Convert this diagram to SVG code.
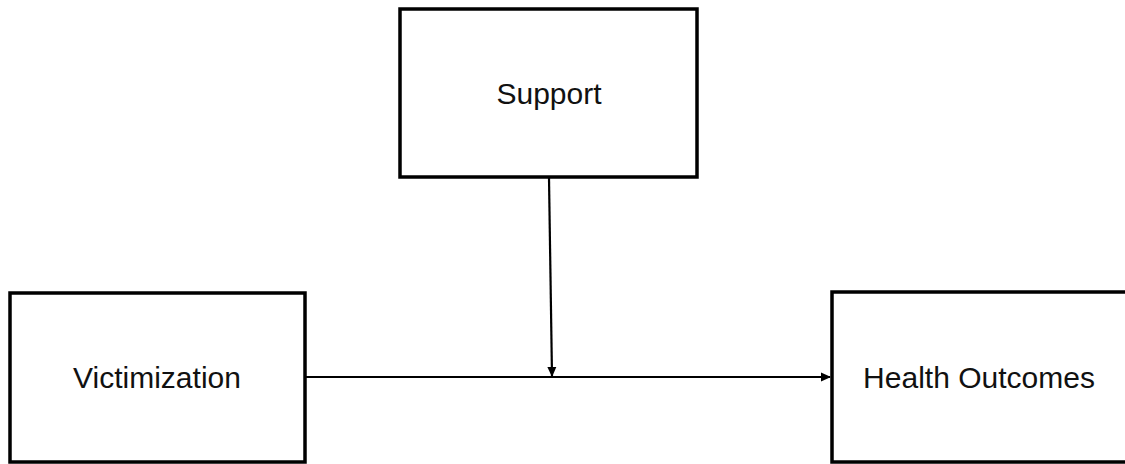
<svg xmlns="http://www.w3.org/2000/svg" width="1125" height="464" viewBox="0 0 1125 464">
<style>
.box{fill:#fff;stroke:#000;stroke-width:3.5}
.lbl{font-family:"Liberation Sans",Arial,sans-serif;font-size:30px;fill:#111;text-anchor:middle}
.conn{stroke:#000;stroke-width:2.2;fill:none}
</style>
<defs>
<marker id="ah" markerWidth="10" markerHeight="10" refX="9" refY="5" orient="auto" markerUnits="userSpaceOnUse">
<path d="M0,0.5 L10,5 L0,9.5 Z" fill="#000"/>
</marker>
</defs>
<rect width="1125" height="464" fill="#fff"/>
<g id="support">
<rect class="box" x="400" y="9" width="297" height="168"/>
<text class="lbl" x="549" y="104">Support</text>
</g>
<g id="victimization">
<rect class="box" x="10" y="293" width="295" height="169"/>
<text class="lbl" x="157" y="388">Victimization</text>
</g>
<g id="health">
<rect class="box" x="832" y="292" width="300" height="170"/>
<text class="lbl" x="979" y="388">Health Outcomes</text>
</g>
<g id="connectors">
<line class="conn" x1="305" y1="377" x2="830" y2="377" marker-end="url(#ah)"/>
<line class="conn" x1="549" y1="178" x2="552" y2="376" marker-end="url(#ah)"/>
</g>
</svg>
